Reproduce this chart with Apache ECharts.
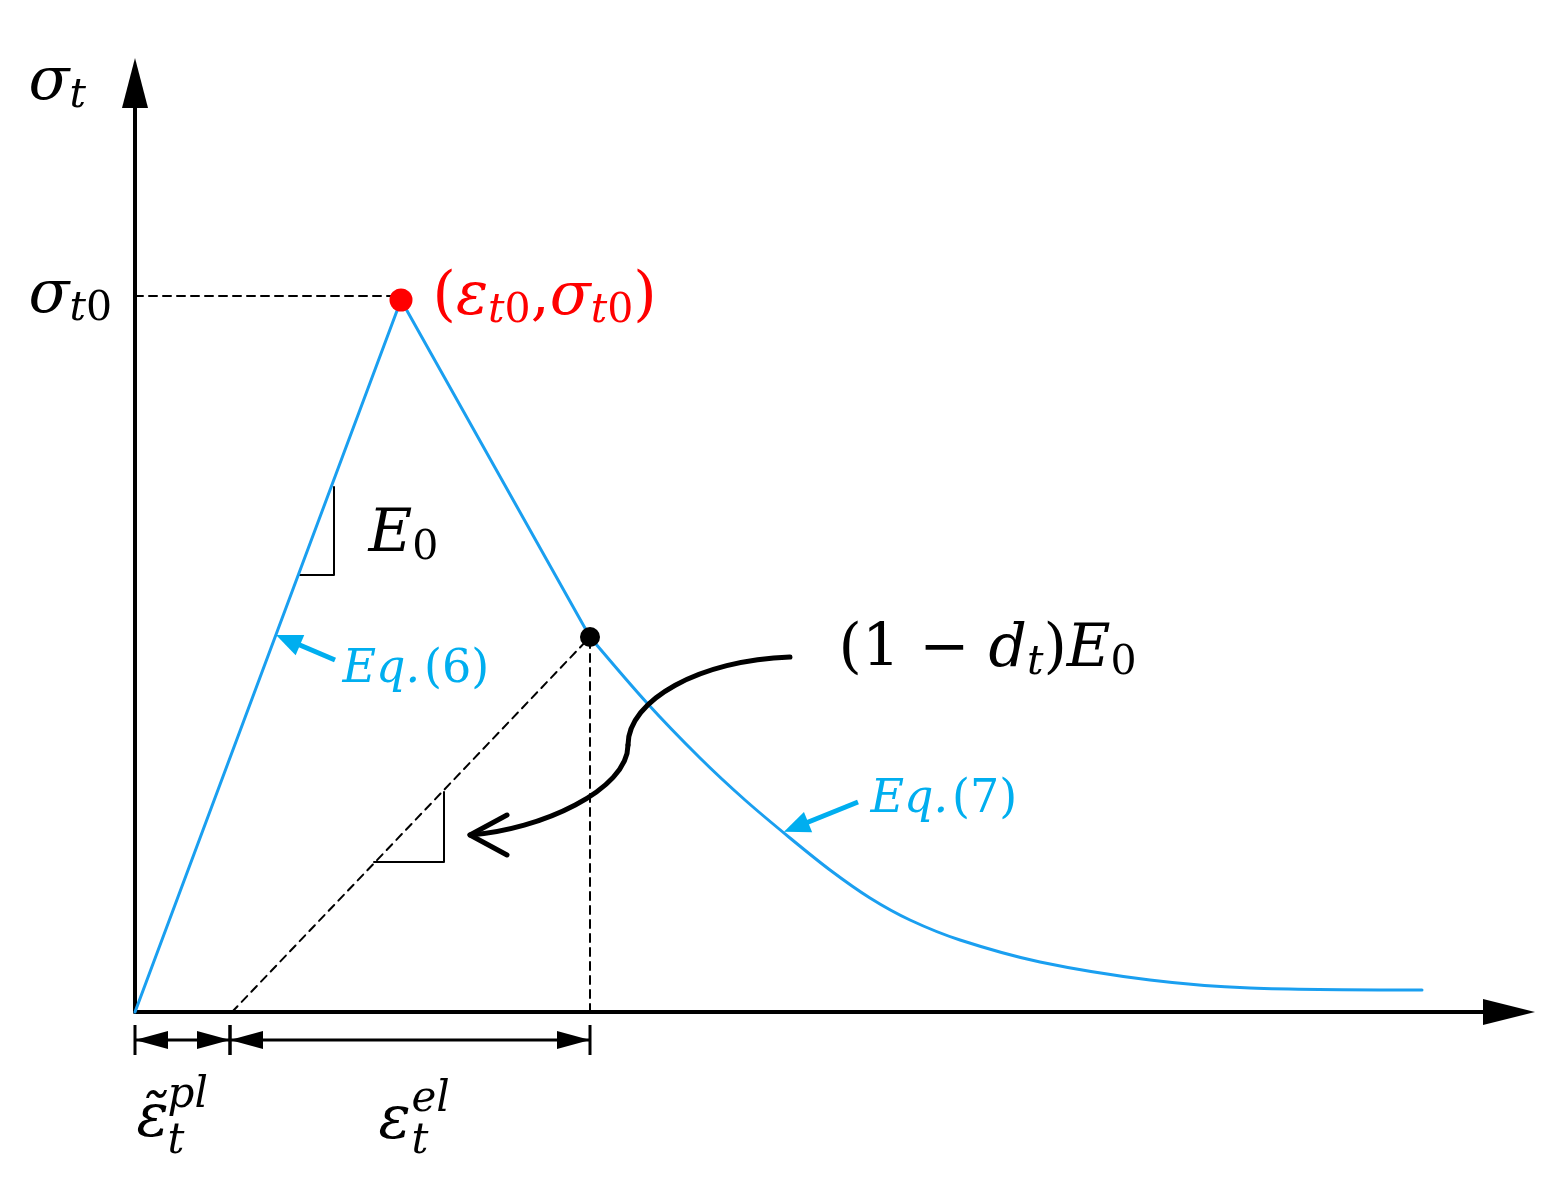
<!DOCTYPE html>
<html>
<head>
<meta charset="utf-8">
<script src="https://cdn.jsdelivr.net/npm/echarts@6/dist/echarts.min.js"></script>
<style>
html, body { margin: 0; padding: 0; background: #fff; }
#main { width: 1554px; height: 1196px; }
</style>
</head>
<body>
<div id="main"></div>
<script>
// stress-strain sketch, values (arbitrary units)
const loadBranch = [[0, 0], [266, 712]]
const softenStraight = [[266, 712], [455, 375]]
const softenTail = [
  [455, 375], [512, 309], [565, 254], [610, 212], [655, 174], [695, 142],
  [735, 114], [775, 92], [825, 72], [905, 50], [1015, 32], [1115, 24], [1287, 22]
]
const peakPoint = [266, 712]
const damagePoint = [455, 375]
const peakGuide = [[0, 716], [266, 716]]
const unloadLine = [[97, 0], [455, 375]]
const strainGuide = [[455, 0], [455, 375]]
const slopeMarkE0 = [[199, 525], [199, 437], [165, 437]]
const slopeMarkEd = [[309, 220], [309, 150], [239, 150]]
// leader: two cubic pieces, start / control / control / joint / control / control / end
const leaderBezier = [
  [655, 355], [565, 352], [493, 312], [493, 267], [493, 222], [405, 182], [335, 177]
]
const leaderHead = [[372, 197], [335, 177], [372, 157]]
// strain spans shown under the axis: [from, to]
const strainSpans = [[0, 95], [95, 455]]
const spanLevel = -28

const BLUE = '#1a9ff0'
const EQ_BLUE = '#00aeef'
const FONT = 'DejaVu Serif'

const rich = {
  v: { fontFamily: FONT, fontStyle: 'italic', fontSize: 60, lineHeight: 68 },
  n: { fontFamily: FONT, fontSize: 60, lineHeight: 68 },
  vs: { fontFamily: FONT, fontStyle: 'italic', fontSize: 41, lineHeight: 30, verticalAlign: 'bottom' },
  ns: { fontFamily: FONT, fontSize: 41, lineHeight: 30, verticalAlign: 'bottom' },
  ev: { fontFamily: FONT, fontStyle: 'italic', fontSize: 46, lineHeight: 52 },
  en: { fontFamily: FONT, fontSize: 46, lineHeight: 52 },
  sp: { fontSize: 14, lineHeight: 52 },
  sup: { fontFamily: FONT, fontStyle: 'italic', fontSize: 42, lineHeight: 46 }
}

// text annotations, anchored at the left middle of each text
const notes = [
  { at: [-107, 929], text: '{v|σ}{vs|t}', color: '#000' },
  { at: [-107, 716], text: '{v|σ}{vs|t}{ns|0}', color: '#000' },
  { at: [297, 714], text: '{n|(}{v|ε}{vs|t}{ns|0}{n|,}{v|σ}{vs|t}{ns|0}{n|)}', color: '#ff0000' },
  { at: [233, 477], text: '{v|E}{ns|0}', color: '#000' },
  { at: [207, 342], text: '{ev|Eq.}{sp| }{en|(6)}', color: EQ_BLUE },
  { at: [703, 362], text: '{n|(1 − }{v|d}{vs|t}{n|)}{v|E}{ns|0}', color: '#000' },
  { at: [735, 212], text: '{ev|Eq.}{sp| }{en|(7)}', color: EQ_BLUE },
  { at: [1, -108], text: '{v|ε̃}', color: '#000' },
  { at: [32, -84], text: '{sup|pl}', color: '#000' },
  { at: [32, -130], text: '{sup|t}', color: '#000' },
  { at: [243, -110], text: '{v|ε}', color: '#000' },
  { at: [276, -88], text: '{sup|el}', color: '#000' },
  { at: [276, -130], text: '{sup|t}', color: '#000' }
]

const chart = echarts.init(document.getElementById('main'))

function plainLine(data, color, width, type, smooth) {
  return {
    type: 'line',
    data: data,
    symbol: 'none',
    clip: false,
    smooth: smooth || false,
    silent: true,
    lineStyle: { color: color, width: width, type: type || 'solid', cap: 'round', join: 'round' },
    z: 3
  }
}

const dashed = [8, 6]

// double headed dimension arrow with end ticks
function renderSpan(params, api) {
  const a = api.coord([api.value(0), spanLevel])
  const b = api.coord([api.value(1), spanLevel])
  const len = 33, half = 9, tick = 15
  const style = { fill: '#000', stroke: null }
  return {
    type: 'group',
    children: [
      { type: 'line', shape: { x1: a[0], y1: a[1], x2: b[0], y2: b[1] }, style: { stroke: '#000', lineWidth: 3 } },
      { type: 'polygon', shape: { points: [[a[0], a[1]], [a[0] + len, a[1] - half], [a[0] + len, a[1] + half]] }, style: style },
      { type: 'polygon', shape: { points: [[b[0], b[1]], [b[0] - len, b[1] - half], [b[0] - len, b[1] + half]] }, style: style },
      { type: 'line', shape: { x1: a[0], y1: a[1] - tick, x2: a[0], y2: a[1] + tick }, style: { stroke: '#000', lineWidth: 3 } },
      { type: 'line', shape: { x1: b[0], y1: b[1] - tick, x2: b[0], y2: b[1] + tick }, style: { stroke: '#000', lineWidth: 3 } }
    ]
  }
}

// curved leader from the (1 - dt)E0 label, drawn as two bezier pieces
function renderLeader(params, api) {
  const p = leaderBezier.map(d => api.coord(d))
  const style = { stroke: '#000', lineWidth: 5, fill: null, lineCap: 'round' }
  return {
    type: 'group',
    children: [
      {
        type: 'bezierCurve',
        shape: { x1: p[0][0], y1: p[0][1], cpx1: p[1][0], cpy1: p[1][1], cpx2: p[2][0], cpy2: p[2][1], x2: p[3][0], y2: p[3][1] },
        style: style
      },
      {
        type: 'bezierCurve',
        shape: { x1: p[3][0], y1: p[3][1], cpx1: p[4][0], cpy1: p[4][1], cpx2: p[5][0], cpy2: p[5][1], x2: p[6][0], y2: p[6][1] },
        style: style
      }
    ]
  }
}

const option = {
  animation: false,
  backgroundColor: '#fff',
  grid: { left: 135, right: 45, top: 83, bottom: 184 },
  xAxis: {
    type: 'value',
    min: 0,
    max: 1374,
    axisLine: {
      show: true,
      symbol: ['none', 'triangle'],
      symbolSize: [26, 52],
      lineStyle: { color: '#000', width: 4 }
    },
    axisTick: { show: false },
    axisLabel: { show: false },
    splitLine: { show: false }
  },
  yAxis: {
    type: 'value',
    min: 0,
    max: 929,
    axisLine: {
      show: true,
      symbol: ['none', 'triangle'],
      symbolSize: [26, 50],
      lineStyle: { color: '#000', width: 4 }
    },
    axisTick: { show: false },
    axisLabel: { show: false },
    splitLine: { show: false }
  },
  series: [
    plainLine(peakGuide, '#000', 2, dashed),
    plainLine(unloadLine, '#000', 2, dashed),
    plainLine(strainGuide, '#000', 2, dashed),
    plainLine(slopeMarkE0, '#000', 2),
    plainLine(slopeMarkEd, '#000', 2),
    plainLine(loadBranch, BLUE, 3),
    plainLine(softenStraight, BLUE, 3),
    plainLine(softenTail, BLUE, 3, 'solid', 0.3),
    plainLine(leaderHead, '#000', 5),
    {
      type: 'custom',
      silent: true,
      clip: false,
      renderItem: renderLeader,
      data: [[0, 0]],
      z: 4
    },
    // Eq. arrows
    {
      type: 'line',
      data: [],
      clip: false,
      markLine: {
        silent: true,
        symbol: ['none', 'triangle'],
        symbolSize: [22, 26],
        label: { show: false },
        lineStyle: { color: EQ_BLUE, width: 5, type: 'solid' },
        data: [
          [{ coord: [200, 352] }, { coord: [153, 372] }],
          [{ coord: [723, 210] }, { coord: [661, 185] }]
        ]
      }
    },
    {
      type: 'custom',
      silent: true,
      clip: false,
      renderItem: renderSpan,
      data: strainSpans,
      z: 4
    },
    {
      type: 'scatter',
      clip: false,
      silent: true,
      z: 5,
      data: [
        { value: peakPoint, symbolSize: 23, itemStyle: { color: '#ff0000', opacity: 1 } },
        { value: damagePoint, symbolSize: 20, itemStyle: { color: '#000', opacity: 1 } }
      ]
    },
    {
      type: 'scatter',
      clip: false,
      silent: true,
      symbolSize: 1,
      itemStyle: { color: 'rgba(0,0,0,0)', opacity: 1 },
      z: 6,
      data: notes.map(n => ({
        value: n.at,
        label: {
          show: true,
          position: 'right',
          distance: 0,
          color: n.color,
          opacity: 1,
          formatter: n.text,
          rich: rich
        }
      }))
    }
  ]
}

chart.setOption(option)
</script>
</body>
</html>
